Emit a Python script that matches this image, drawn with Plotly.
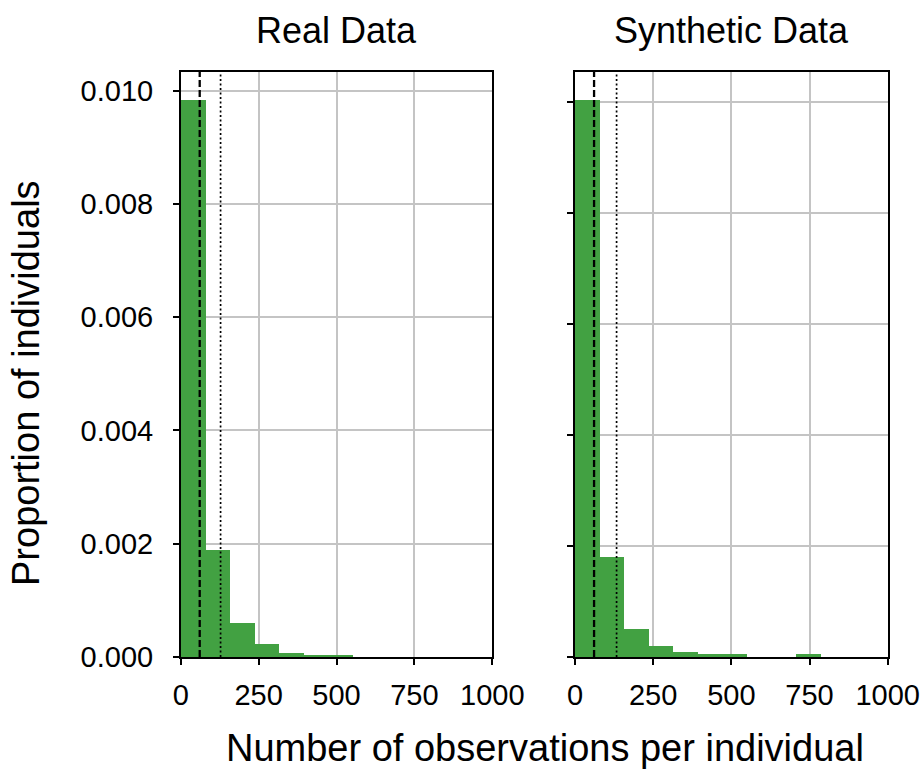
import plotly.graph_objects as go

# Data
bin_edges = [0, 78.7, 157.4, 236.1, 314.8, 393.5, 472.2, 550.9, 629.6, 708.3, 787.0]
real_density = [0.009846, 0.001906, 0.000607, 0.000230, 0.000083, 0.000046, 0.000045, 0.0, 0.0, 0.0]
synth_density = [0.010050, 0.001805, 0.000518, 0.000211, 0.000103, 0.000060, 0.000058, 0.0, 0.0, 0.000067]
real_median, real_mean = 61, 128
synth_median, synth_mean = 61, 133
x_ticks = [0, 250, 500, 750, 1000]
x_ticklabels = ["0", "250", "500", "750", "1000"]
y_ticks = [0.0, 0.002, 0.004, 0.006, 0.008, 0.010]
titles = ["Real Data", "Synthetic Data"]

centers = [(a + b) / 2 for a, b in zip(bin_edges[:-1], bin_edges[1:])]
widths = [b - a for a, b in zip(bin_edges[:-1], bin_edges[1:])]

W, H = 922, 769
FONT = "Liberation Sans, Arial, Helvetica, sans-serif"
GREEN = "#42a142"

fig = go.Figure()
fig.add_trace(go.Bar(x=centers, y=real_density, width=widths, marker=dict(color=GREEN, line=dict(width=0)),
                     xaxis="x", yaxis="y", showlegend=False))
fig.add_trace(go.Bar(x=centers, y=synth_density, width=widths, marker=dict(color=GREEN, line=dict(width=0)),
                     xaxis="x2", yaxis="y2", showlegend=False))

left_dom = [180.7 / W, 492.3 / W]
right_dom = [575.0 / W, 887.7 / W]
ydom = [(H - 657.0) / H, (H - 71.5) / H]

axis_common = dict(
    showline=True, linecolor="black", linewidth=1.5, mirror=True,
    showgrid=True, gridcolor="#c4c4c4", gridwidth=1.5,
    ticks="outside", ticklen=6, tickwidth=1.5, tickcolor="black",
    zeroline=False, layer="above traces", automargin=False,
    tickfont=dict(family=FONT, size=29, color="black"),
)

real_top = max(real_density) * 1.05
synth_top = max(synth_density) * 1.05

fig.update_layout(
    width=W, height=H,
    margin=dict(l=0, r=0, t=0, b=0),
    plot_bgcolor="white", paper_bgcolor="white",
    bargap=0,
    font=dict(family=FONT, color="black"),
    xaxis=dict(domain=left_dom, anchor="y", range=[0, 1000], tickvals=x_ticks, ticktext=x_ticklabels,
               ticklabelstandoff=5, **axis_common),
    yaxis=dict(domain=ydom, anchor="x", range=[0, real_top], tickvals=y_ticks, tickformat=".3f",
               ticklabelstandoff=14, **axis_common),
    xaxis2=dict(domain=right_dom, anchor="y2", range=[0, 1000], tickvals=x_ticks, ticktext=x_ticklabels,
                ticklabelstandoff=5, **axis_common),
    yaxis2=dict(domain=ydom, anchor="x2", range=[0, synth_top], tickvals=y_ticks, showticklabels=False,
                **axis_common),
)

shapes = []
for xref, yref, med, mean in [("x", "y domain", real_median, real_mean),
                              ("x2", "y2 domain", synth_median, synth_mean)]:
    shapes.append(dict(type="line", xref=xref, yref=yref, x0=med, x1=med, y0=0, y1=1,
                       line=dict(color="black", width=2.3, dash="7px,3px"), layer="above"))
    shapes.append(dict(type="line", xref=xref, yref=yref, x0=mean, x1=mean, y0=0, y1=1,
                       line=dict(color="black", width=1.7, dash="2px,2.5px"), layer="above"))
fig.update_layout(shapes=shapes)

annots = []
for dom, t in zip([left_dom, right_dom], titles):
    annots.append(dict(text=t, x=(dom[0] + dom[1]) / 2, y=(H - 31) / H, xref="paper", yref="paper",
                       xanchor="center", yanchor="middle", showarrow=False,
                       font=dict(family=FONT, size=36, color="black")))
annots.append(dict(text="Proportion of individuals", x=26 / W, y=(H - 383) / H, xref="paper", yref="paper",
                   xanchor="center", yanchor="middle", textangle=-90, showarrow=False,
                   font=dict(family=FONT, size=38, color="black")))
annots.append(dict(text="Number of observations per individual", x=545 / W, y=(H - 748) / H,
                   xref="paper", yref="paper", xanchor="center", yanchor="middle", showarrow=False,
                   font=dict(family=FONT, size=38, color="black")))
fig.update_layout(annotations=annots)

fig.write_html("out.html", config={"displayModeBar": False},
               post_script="document.body.style.margin='0';document.body.style.overflow='hidden';")
